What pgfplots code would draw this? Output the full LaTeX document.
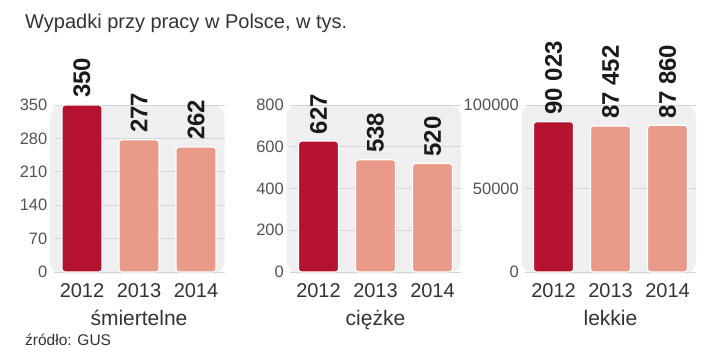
\documentclass[border=0pt]{standalone}
\usepackage{pgfplots}
\pgfplotsset{compat=1.18}
\usepackage{fontspec}
\setmainfont{Liberation Sans}
\definecolor{darkred}{HTML}{B5122F}
\definecolor{salmon}{HTML}{E99A88}
\definecolor{bggray}{HTML}{EFEFEF}
\definecolor{gridgray}{HTML}{D4D4D4}
\definecolor{txt}{HTML}{333333}
\definecolor{valtxt}{HTML}{1A1A1A}

\pgfplotsset{
  panel/.style={
    set layers,
    scale only axis, width=171pt, height=167pt,
    xmin=-0.5, xmax=2.5, ymin=0,
    xtick={0,1,2}, xticklabels={2012,2013,2014},
    axis line style={draw=none},
    major tick length=0pt,
    ymajorgrids, grid style={gridgray, line width=0.7pt},
    xticklabel style={font=\fontsize{20}{20}\selectfont, text=txt, anchor=base, yshift=-25pt},
    yticklabel style={font=\fontsize{16.5}{16.5}\selectfont, text=txt!85!white, anchor=east, inner sep=0pt, xshift=-6pt,
      /pgf/number format/fixed, /pgf/number format/precision=0},
    /pgf/number format/assume math mode=true,
    /pgf/number format/1000 sep={},
    scaled y ticks=false,
    clip=false,
    ybar, bar width=40pt,
    point meta=explicit symbolic,
    nodes near coords,
    nodes near coords style={rotate=90, anchor=west, inner sep=0pt, outer sep=7pt,
      font=\fontsize{24}{24}\selectfont\bfseries, text=valtxt},
  },
  firstbar/.style={fill=darkred, draw=white, line width=1.2pt, rounded corners=3pt, bar shift=0pt},
  otherbar/.style={fill=salmon, draw=white, line width=1.2pt, rounded corners=3pt, bar shift=0pt},
}

\begin{document}
\begin{tikzpicture}
\path (0,0) rectangle (720pt,362pt);
\node[anchor=base west, font=\fontsize{20}{20}\selectfont, text=txt, inner sep=0pt] at (25pt,333pt) {Wypadki przy pracy w Polsce, w tys.};
\node[anchor=base west, font=\fontsize{15.5}{15.5}\selectfont, text=txt, inner sep=0pt] at (25pt,17pt) {źródło: GUS};

% panel 1
\begin{axis}[panel, at={(53.5pt,90pt)}, anchor=south west, ymax=350, ytick={0,70,140,210,280,350}]
\begin{pgfonlayer}{axis background}
\fill[bggray, rounded corners=12pt] (rel axis cs:-0.02,-0.01) rectangle (rel axis cs:1.0,1.0);
\end{pgfonlayer}
\addplot[firstbar] coordinates {(0,350) [350]};
\addplot[otherbar] coordinates {(1,277) [277] (2,262) [262]};
\node[font=\fontsize{21}{21}\selectfont, text=txt, anchor=base, yshift=-53pt] at (rel axis cs:0.5,0) {śmiertelne};
\end{axis}

% panel 2
\begin{axis}[panel, at={(290pt,90pt)}, anchor=south west, ymax=800, ytick={0,200,400,600,800}]
\begin{pgfonlayer}{axis background}
\fill[bggray, rounded corners=12pt] (rel axis cs:-0.02,-0.01) rectangle (rel axis cs:1.0,1.0);
\end{pgfonlayer}
\addplot[firstbar] coordinates {(0,627) [627]};
\addplot[otherbar] coordinates {(1,538) [538] (2,520) [520]};
\node[font=\fontsize{21}{21}\selectfont, text=txt, anchor=base, yshift=-53pt] at (rel axis cs:0.5,0) {ciężke};
\end{axis}

% panel 3
\begin{axis}[panel, at={(525pt,90pt)}, anchor=south west, ymax=100000, ytick={0,50000,100000}]
\begin{pgfonlayer}{axis background}
\fill[bggray, rounded corners=12pt] (rel axis cs:-0.02,-0.01) rectangle (rel axis cs:1.0,1.0);
\end{pgfonlayer}
\addplot[firstbar] coordinates {(0,90023) [90 023]};
\addplot[otherbar] coordinates {(1,87452) [87 452] (2,87860) [87 860]};
\node[font=\fontsize{21}{21}\selectfont, text=txt, anchor=base, yshift=-53pt] at (rel axis cs:0.5,0) {lekkie};
\end{axis}
\end{tikzpicture}
\end{document}
